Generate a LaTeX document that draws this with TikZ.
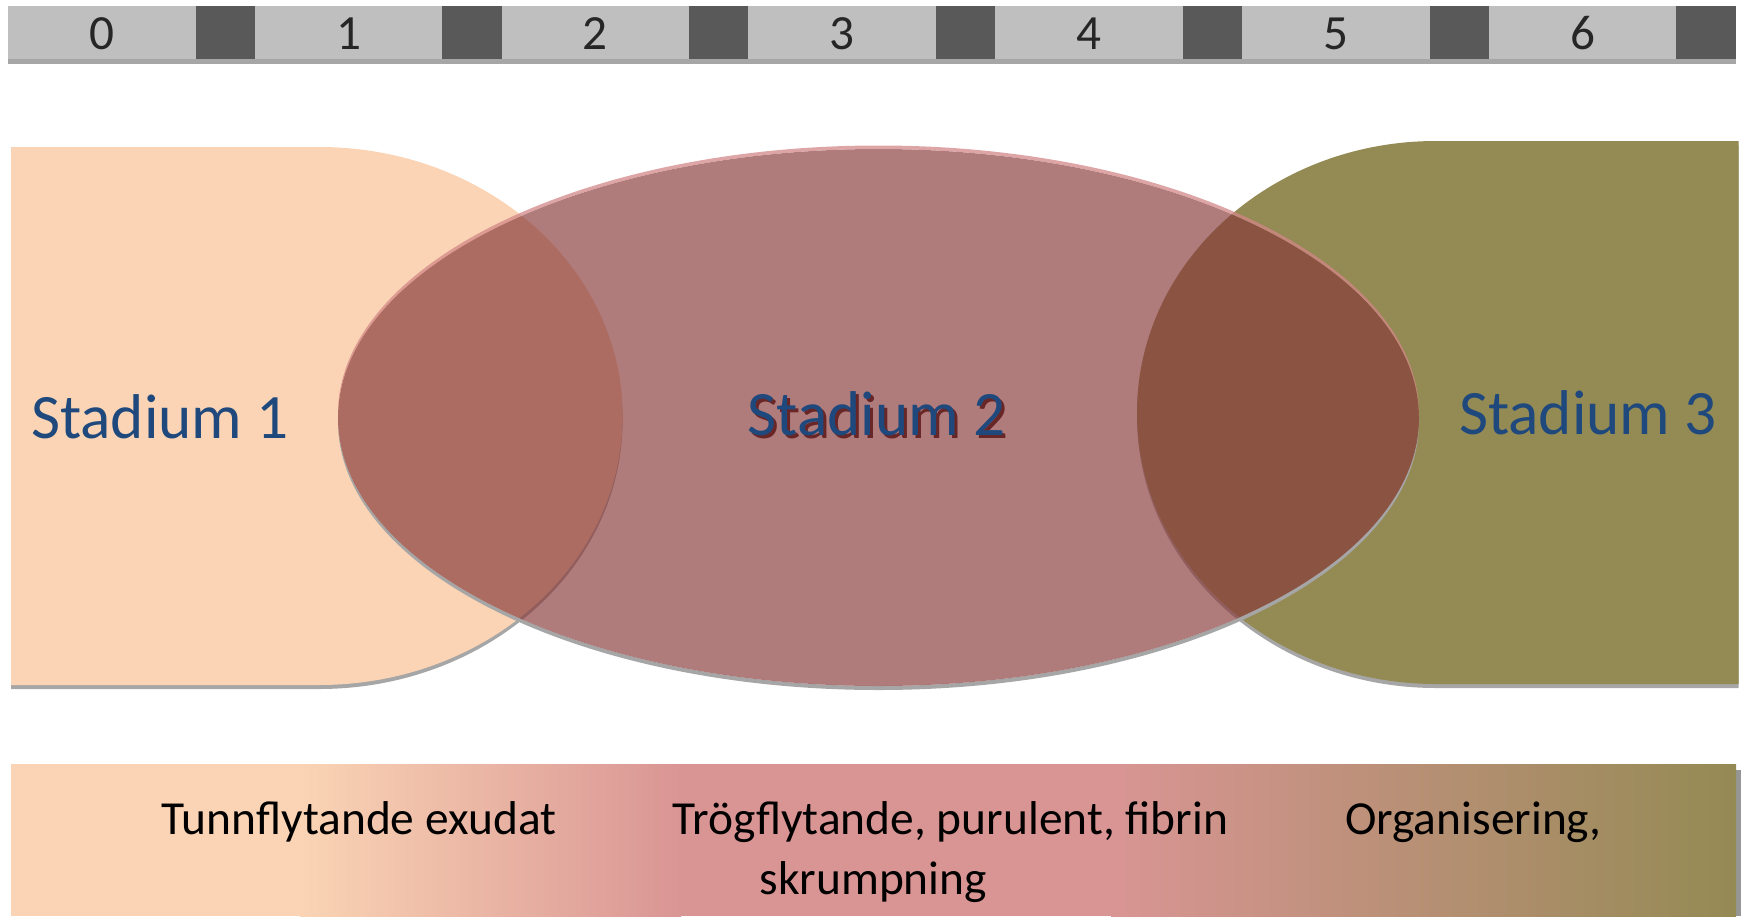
\documentclass[tikz,border=0pt]{standalone}
\usepackage{fontspec}
\setmainfont{Carlito}
\definecolor{peach}{RGB}{250,212,180}
\definecolor{rose}{RGB}{136,58,58}
\definecolor{olive}{RGB}{148,138,84}
\definecolor{pinkbar}{RGB}{217,149,148}
\definecolor{shadowgray}{RGB}{166,166,166}
\definecolor{barlight}{RGB}{191,191,191}
\definecolor{bardark}{RGB}{89,89,89}
\definecolor{digitgray}{RGB}{38,38,38}
\definecolor{stadblue}{RGB}{31,73,125}
\definecolor{stadshadow}{RGB}{105,38,38}
\definecolor{rosehi}{RGB}{210,135,135}
\tikzset{
  digitlabel/.style={text=digitgray, font=\fontsize{28}{30}\selectfont, anchor=base, inner sep=0pt},
  stadlabel/.style={text=stadblue, font=\fontsize{36}{40}\selectfont, anchor=base, inner sep=0pt},
  barlabel/.style={text=black, font=\fontsize{27}{30}\selectfont, anchor=base, inner sep=0pt},
  shadowfill/.style={fill=shadowgray},
}
\begin{document}
\begin{tikzpicture}[x=0.02cm,y=-0.02cm]
\useasboundingbox (0,0) rectangle (1743,916);
\clip (0,0) rectangle (1743,916);
% top scale bar
\fill[shadowfill] (8,11) rectangle (1736,64);
\foreach \i in {0,...,6} {
  \pgfmathsetmacro{\xa}{8+\i*246.8}
  \pgfmathsetmacro{\xb}{\xa+187.5}
  \pgfmathsetmacro{\xc}{8+(\i+1)*246.8}
  \fill[barlight] (\xa,6) rectangle (\xb,59);
  \fill[bardark] (\xb,6) rectangle (\xc,59);
  \node[digitlabel] (d\i) at ({(\xa+\xb)/2},49.5) {\i};
}
% stage 1 shape
\fill[shadowfill] (11,151) -- (319,151) arc[start angle=-90,end angle=90,x radius=303.6,y radius=269] -- (11,689) -- cycle;
\fill[peach] (11,147) -- (319,147) arc[start angle=-90,end angle=90,x radius=303.6,y radius=269] -- (11,685) -- cycle;
% stage 3 shape
\fill[shadowfill] (1738.5,145) -- (1436,145) arc[start angle=-90,end angle=-270,x radius=299,y radius=271.5] -- (1738.5,688) -- cycle;
\fill[olive] (1738.5,141) -- (1436,141) arc[start angle=-90,end angle=-270,x radius=299,y radius=271.5] -- (1738.5,684) -- cycle;
% stage 2 ellipse: shadow, body, top highlight
\fill[shadowfill] (1419,421.5) arc[start angle=0,end angle=180,x radius=540.5,y radius=268.5] -- (338,417.5) arc[start angle=180,end angle=0,x radius=540.5,y radius=268.5] -- cycle;
\fill[rose, opacity=0.67] (878.5,417.5) ellipse[x radius=540.5,y radius=268.5];
\fill[rosehi, opacity=0.75] (1419,414) arc[start angle=0,end angle=-180,x radius=540.5,y radius=268.5] -- (338,417.5) arc[start angle=-180,end angle=0,x radius=540.5,y radius=268.5] -- cycle;
% stage labels
\node[stadlabel] (s1) at (160,438) {Stadium 1};
\node[stadlabel, text=stadshadow] (s2shadow) at (879.5,438.2) {Stadium 2};
\node[stadlabel] (s2) at (876.5,435) {Stadium 2};
\node[stadlabel] (s3) at (1588,434.5) {Stadium 3};
% bottom gradient bar
\fill[fill={rgb,255:red,150;green,150;blue,150}] (16,770) rectangle (1741,916);
\fill[peach] (11,764) rectangle (301,916);
\shade[left color=peach, right color=pinkbar] (300,764) rectangle (681,916);
\fill[pinkbar] (680,764) rectangle (1112,916);
\shade[left color=pinkbar, right color=olive] (1111,764) rectangle (1736,916);
\node[barlabel] (t1) at (359,834) {Tunnflytande exudat};
\node[barlabel] (t2) at (950.4,834) {Trögflytande, purulent, fibrin};
\node[barlabel] (t3) at (1473.4,834) {Organisering,};
\node[barlabel] (t4) at (873.3,894) {skrumpning};
\end{tikzpicture}
\end{document}
